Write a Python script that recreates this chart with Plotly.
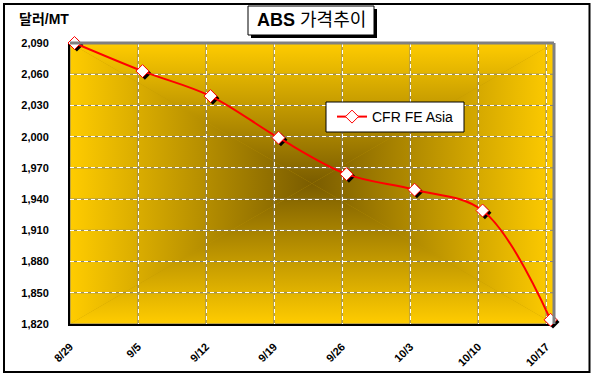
import base64
import numpy as np
import plotly.graph_objects as go

# ---- data ----
dates = ["8/29", "9/5", "9/12", "9/19", "9/26", "10/3", "10/10", "10/17"]
cfr_fe_asia = [2090, 2063, 2039, 1999, 1964, 1949, 1929, 1824]
series_name = "CFR FE Asia"
y_ticks = list(range(1820, 2091, 30))
title_text = "<b>ABS</b> 가격추이"
unit_text = "<b>달러/MT</b>"

# ---- layout constants (pixels) ----
W, H = 595, 380
ML, MR, MT, MB = 70, 41, 43, 56
PW, PH = W - ML - MR, H - MT - MB
GRID_SHIFT = 0.066          # grid/tick lines sit slightly left of the points
FONT = "Liberation Sans, Arial, Noto Sans CJK KR, sans-serif"


def px(xp):
    return (xp - ML) / PW


def py(yp):
    return (H - MB - yp) / PH


idx = np.arange(len(dates))
grid_x = idx - GRID_SHIFT

# rectangular "from center" gradient for the plot area
gold, dark = "#FFCC00", "#7A5C00"
cx, cy = PW / 2, PH / 2
svg = f"""<svg xmlns='http://www.w3.org/2000/svg' width='{PW}' height='{PH}' viewBox='0 0 {PW} {PH}' preserveAspectRatio='none'>
<defs>
<linearGradient id='t' gradientUnits='userSpaceOnUse' x1='0' y1='0' x2='0' y2='{cy}'><stop offset='0' stop-color='{gold}'/><stop offset='1' stop-color='{dark}'/></linearGradient>
<linearGradient id='b' gradientUnits='userSpaceOnUse' x1='0' y1='{PH}' x2='0' y2='{cy}'><stop offset='0' stop-color='{gold}'/><stop offset='1' stop-color='{dark}'/></linearGradient>
<linearGradient id='l' gradientUnits='userSpaceOnUse' x1='0' y1='0' x2='{cx}' y2='0'><stop offset='0' stop-color='{gold}'/><stop offset='1' stop-color='{dark}'/></linearGradient>
<linearGradient id='r' gradientUnits='userSpaceOnUse' x1='{PW}' y1='0' x2='{cx}' y2='0'><stop offset='0' stop-color='{gold}'/><stop offset='1' stop-color='{dark}'/></linearGradient>
</defs>
<rect x='0' y='0' width='{PW}' height='{PH}' fill='#C09600'/>
<polygon points='0,0 {PW},0 {cx},{cy}' fill='url(#t)'/>
<polygon points='0,{PH} {PW},{PH} {cx},{cy}' fill='url(#b)'/>
<polygon points='0,0 0,{PH} {cx},{cy}' fill='url(#l)'/>
<polygon points='{PW},0 {PW},{PH} {cx},{cy}' fill='url(#r)'/>
</svg>"""
svg_uri = "data:image/svg+xml;base64," + base64.b64encode(svg.encode()).decode()

fig = go.Figure()

# marker shadows
fig.add_trace(go.Scatter(
    x=idx + 0.035, y=np.array(cfr_fe_asia) - 2.0, mode="markers",
    marker=dict(symbol="diamond", size=10, color="black"),
    showlegend=False, hoverinfo="skip", cliponaxis=False,
))
fig.add_trace(go.Scatter(
    x=idx, y=cfr_fe_asia, mode="lines+markers", name=series_name,
    line=dict(color="#FF0000", width=2, shape="spline", smoothing=1),
    marker=dict(symbol="diamond", size=10, color="white",
                line=dict(color="#FF0000", width=1)),
    cliponaxis=False,
))

shapes = []
# gray solid grid under the white dashed grid
for gx in grid_x:
    shapes.append(dict(type="line", xref="x", yref="paper", x0=gx, x1=gx, y0=0, y1=1,
                       line=dict(color="#808080", width=1), layer="below"))
for gy in y_ticks:
    shapes.append(dict(type="line", xref="paper", yref="y", x0=0, x1=1, y0=gy, y1=gy,
                       line=dict(color="#808080", width=1), layer="below"))
# gray plot-area border (top/right)
shapes.append(dict(type="line", xref="paper", yref="paper", x0=0, x1=1, y0=1, y1=1,
                   line=dict(color="#808080", width=3)))
shapes.append(dict(type="line", xref="paper", yref="paper", x0=1, x1=1, y0=0, y1=1,
                   line=dict(color="#808080", width=3)))
# outer chart border
shapes.append(dict(type="rect", xref="paper", yref="paper",
                   x0=px(4), x1=px(589.5), y0=py(372), y1=py(4),
                   line=dict(color="black", width=2), fillcolor="rgba(0,0,0,0)"))
# title box shadow + box
shapes.append(dict(type="rect", xref="paper", yref="paper",
                   x0=px(251), x1=px(377), y0=py(38), y1=py(9),
                   line=dict(color="black", width=0), fillcolor="black"))
shapes.append(dict(type="rect", xref="paper", yref="paper",
                   x0=px(248), x1=px(374), y0=py(35), y1=py(6),
                   line=dict(color="black", width=1), fillcolor="white"))
# legend box
shapes.append(dict(type="rect", xref="paper", yref="paper",
                   x0=px(326), x1=px(464), y0=py(132), y1=py(102),
                   line=dict(color="black", width=1), fillcolor="white"))

fig.update_layout(
    width=W, height=H,
    margin=dict(l=ML, r=MR, t=MT, b=MB),
    paper_bgcolor="white", plot_bgcolor="rgba(0,0,0,0)",
    font=dict(family=FONT, color="black"),
    showlegend=True,
    legend=dict(x=px(332), y=py(117), xanchor="left", yanchor="middle",
                bgcolor="rgba(0,0,0,0)", borderwidth=0,
                font=dict(family=FONT, size=14, color="black"), itemwidth=30),
    images=[dict(source=svg_uri, xref="paper", yref="paper", x=0, y=1,
                 sizex=1, sizey=1, xanchor="left", yanchor="top",
                 sizing="stretch", layer="below")],
    shapes=shapes,
    annotations=[
        dict(text=title_text, xref="paper", yref="paper", x=px(311), y=py(20.5),
             xanchor="center", yanchor="middle", showarrow=False,
             font=dict(family=FONT, size=18, color="black")),
        dict(text=unit_text, xref="paper", yref="paper", x=px(17), y=py(19),
             xanchor="left", yanchor="middle", showarrow=False,
             font=dict(family=FONT, size=14, color="black")),
    ],
    hovermode=False,
)

fig.update_xaxes(
    range=[-GRID_SHIFT, len(dates) - 1 + 0.05],
    tickmode="array", tickvals=grid_x, ticktext=dates, tickangle=-45,
    tickfont=dict(family=FONT, size=11, color="black", weight="bold"),
    ticks="", ticklabelstandoff=10, automargin=False,
    showgrid=True, gridcolor="white", gridwidth=1, griddash="4px,3px",
    showline=True, linecolor="black", linewidth=2, zeroline=False,
    layer="below traces",
)
fig.update_yaxes(
    range=[y_ticks[0], y_ticks[-1]],
    tickmode="array", tickvals=y_ticks, tickformat=",d",
    tickfont=dict(family=FONT, size=11, color="black", weight="bold"),
    ticks="", ticklabelstandoff=17, automargin=False,
    showgrid=True, gridcolor="white", gridwidth=1, griddash="4px,3px",
    showline=True, linecolor="black", linewidth=2, zeroline=False,
    layer="below traces",
)

fig.write_html(
    "out.html",
    config={"displayModeBar": False},
    post_script="document.body.style.margin='0';document.body.style.padding='0';window.dispatchEvent(new Event('resize'));",
)
